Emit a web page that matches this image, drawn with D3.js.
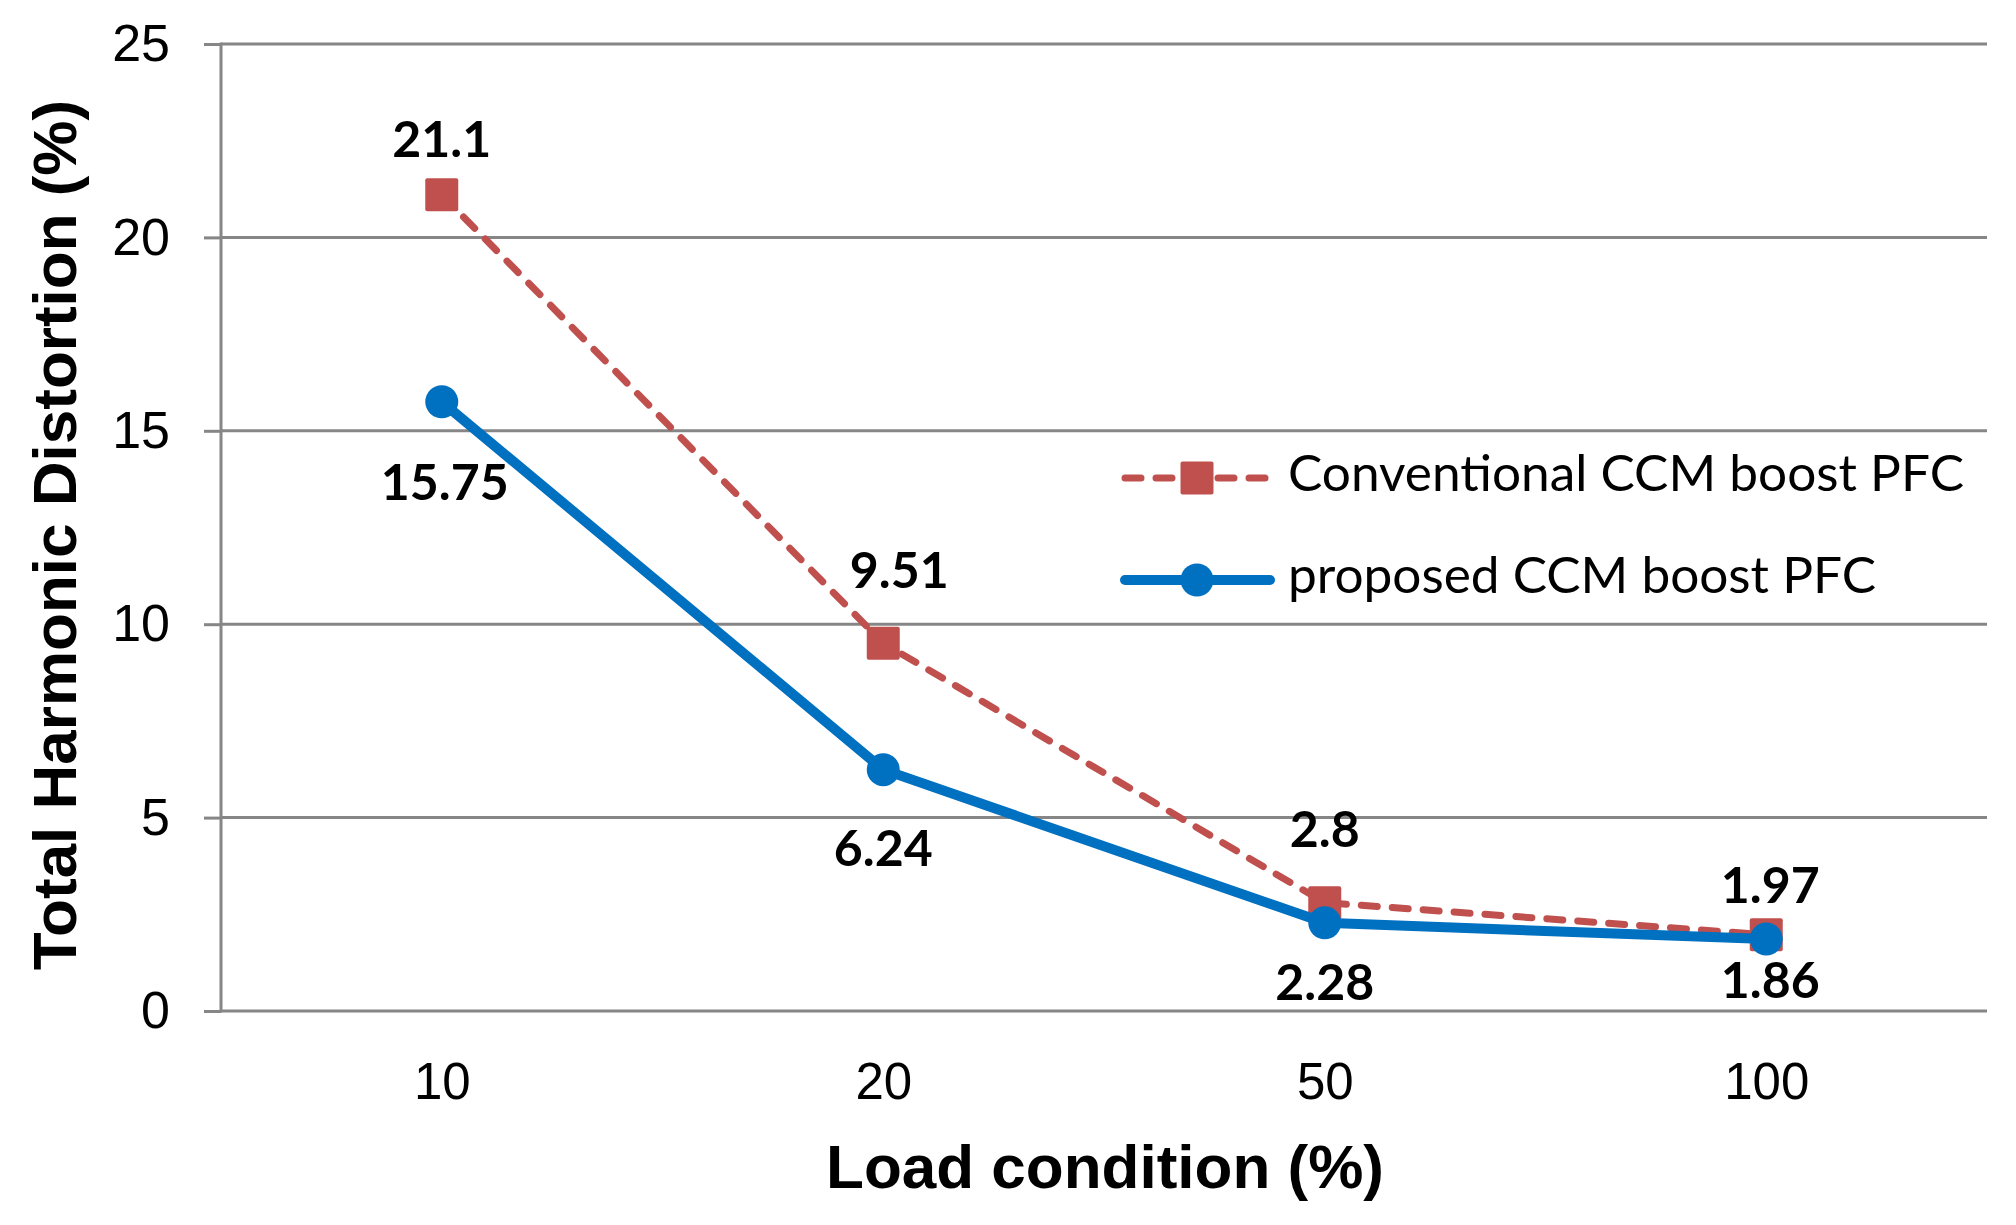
<!DOCTYPE html>
<html>
<head>
<meta charset="utf-8">
<script src="https://cdn.jsdelivr.net/npm/d3@7"></script>
<style>
  body { margin: 0; background: #fff; }
</style>
</head>
<body>
<script>
// DATA
var categories = ["10", "20", "50", "100"];
var conventional = [21.1, 9.51, 2.8, 1.97];
var proposed = [15.75, 6.24, 2.28, 1.86];
var yTicks = [0, 5, 10, 15, 20, 25];
var seriesNames = ["Conventional CCM boost PFC", "proposed CCM boost PFC"];
var xTitle = "Load condition (%)";
var yTitle = "Total Harmonic Distortion (%)";

// label nudges (dx, dy from the point), like the hand-placed labels in the original
var convLabelOffset = [[0, -38], [16, -55], [0, -56], [4, -32]];
var propLabelOffset = [[3, 98], [0, 96], [0, 77], [4, 59]];

// SVG VARIABLES
var width = 2016, height = 1225;
var plotLeft = 221, plotRight = 1987, plotTop = 44, plotBottom = 1011;
var red = "#C0504D", blue = "#0070C0", grid = "#868686";

var svg = d3.select("body").append("svg")
    .attr("width", width)
    .attr("height", height)
    .style("background", "#fff");

var x = d3.scalePoint().domain(categories).range([plotLeft, plotRight]).padding(0.5);
var y = d3.scaleLinear().domain([0, 25]).range([plotBottom, plotTop]);

// gridlines
svg.append("g").selectAll("line")
    .data(yTicks)
    .enter().append("line")
    .attr("x1", plotLeft).attr("x2", plotRight)
    .attr("y1", function (d) { return y(d); })
    .attr("y2", function (d) { return y(d); })
    .attr("stroke", grid).attr("stroke-width", 3);

// y axis (ticks + labels)
var yAxis = svg.append("g")
    .attr("transform", "translate(" + plotLeft + ",0)")
    .call(d3.axisLeft(y).tickValues(yTicks).tickSize(17).tickPadding(34));
yAxis.select(".domain").remove();
yAxis.selectAll(".tick line").attr("stroke", grid).attr("stroke-width", 3);
yAxis.selectAll(".tick text")
    .attr("font-family", "'Liberation Sans', Arial, sans-serif")
    .attr("font-size", 52).attr("fill", "#000");

// vertical axis line
svg.append("line")
    .attr("x1", plotLeft).attr("x2", plotLeft)
    .attr("y1", plotTop - 1.5).attr("y2", plotBottom + 1.5)
    .attr("stroke", grid).attr("stroke-width", 3);

// x axis labels
var xAxis = svg.append("g")
    .attr("transform", "translate(0," + plotBottom + ")")
    .call(d3.axisBottom(x).tickSize(0));
xAxis.select(".domain").remove();
xAxis.selectAll(".tick text")
    .attr("y", 88).attr("dy", null)
    .attr("font-family", "'Liberation Sans', Arial, sans-serif")
    .attr("font-size", 51).attr("fill", "#000");

// axis titles
svg.append("text")
    .attr("x", 1105).attr("y", 1188)
    .attr("text-anchor", "middle")
    .attr("font-family", "'Liberation Sans', Arial, sans-serif")
    .attr("font-weight", "bold").attr("font-size", 62)
    .text(xTitle);

svg.append("text")
    .attr("transform", "translate(76,535) rotate(-90)")
    .attr("text-anchor", "middle")
    .attr("font-family", "'Liberation Sans', Arial, sans-serif")
    .attr("font-weight", "bold").attr("font-size", 62)
    .text(yTitle);

var line = d3.line()
    .x(function (d, i) { return x(categories[i]); })
    .y(function (d) { return y(d); });

// conventional series
svg.append("path")
    .datum(conventional)
    .attr("d", line)
    .attr("fill", "none").attr("stroke", red)
    .attr("stroke-width", 7).attr("stroke-dasharray", "16,15")
    .attr("stroke-linecap", "round");

svg.append("g").selectAll("rect")
    .data(conventional)
    .enter().append("rect")
    .attr("x", function (d, i) { return x(categories[i]) - 16.5; })
    .attr("y", function (d) { return y(d) - 16.5; })
    .attr("width", 33).attr("height", 33).attr("rx", 2)
    .attr("fill", red);

// proposed series
svg.append("path")
    .datum(proposed)
    .attr("d", line)
    .attr("fill", "none").attr("stroke", blue)
    .attr("stroke-width", 10).attr("stroke-linejoin", "round");

svg.append("g").selectAll("circle")
    .data(proposed)
    .enter().append("circle")
    .attr("cx", function (d, i) { return x(categories[i]); })
    .attr("cy", function (d) { return y(d); })
    .attr("r", 16.5)
    .attr("fill", blue);

// data labels
function labels(data, offs) {
    svg.append("g").selectAll("text")
        .data(data)
        .enter().append("text")
        .attr("x", function (d, i) { return x(categories[i]) + offs[i][0]; })
        .attr("y", function (d, i) { return y(d) + offs[i][1]; })
        .attr("text-anchor", "middle")
        .attr("font-family", "Lato, 'Open Sans', sans-serif")
        .attr("font-weight", "bold").attr("font-size", 50)
        .attr("fill", "#000")
        .text(function (d) { return d; });
}
labels(conventional, convLabelOffset);
labels(proposed, propLabelOffset);

// legend
var legend = svg.append("g");
var legY = [478, 580];
legend.append("line")
    .attr("x1", 1125).attr("x2", 1268).attr("y1", legY[0]).attr("y2", legY[0])
    .attr("stroke", red).attr("stroke-width", 7)
    .attr("stroke-dasharray", "16,15").attr("stroke-linecap", "round");
legend.append("rect")
    .attr("x", 1197 - 16.5).attr("y", legY[0] - 16.5)
    .attr("width", 33).attr("height", 33).attr("rx", 2)
    .attr("fill", red);
legend.append("line")
    .attr("x1", 1125).attr("x2", 1270).attr("y1", legY[1]).attr("y2", legY[1])
    .attr("stroke", blue).attr("stroke-width", 10).attr("stroke-linecap", "round");
legend.append("circle")
    .attr("cx", 1197).attr("cy", legY[1]).attr("r", 16.5)
    .attr("fill", blue);

var legWidths = [676, 588];
legend.selectAll("text.leg")
    .data(seriesNames)
    .enter().append("text")
    .attr("class", "leg")
    .attr("x", 1288)
    .attr("y", function (d, i) { return legY[i] + 13; })
    .attr("font-family", "Lato, 'Open Sans', sans-serif")
    .attr("font-size", 50)
    .attr("textLength", function (d, i) { return legWidths[i]; })
    .attr("lengthAdjust", "spacingAndGlyphs")
    .attr("fill", "#000")
    .text(function (d) { return d; });
</script>
</body>
</html>
